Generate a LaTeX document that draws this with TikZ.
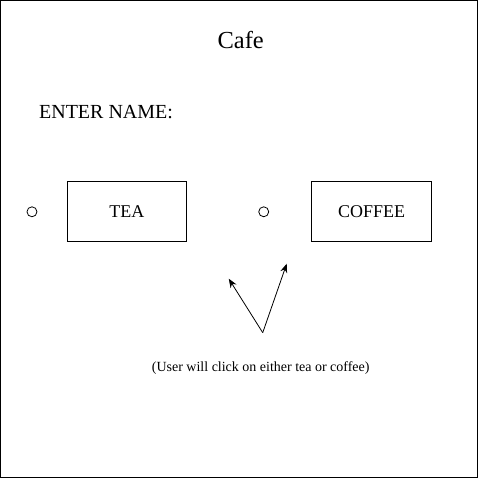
\documentclass[tikz,border=0pt]{standalone}
\usepackage{fontspec}
\setmainfont{Liberation Serif}
\usetikzlibrary{arrows.meta}
\begin{document}
\begin{tikzpicture}[x=1pt,y=-1pt,
  choice/.style={draw,line width=0.8pt,minimum width=120pt,minimum height=60pt,inner sep=0pt,font=\fontsize{18}{20}\selectfont},
  radio/.style={draw,circle,line width=0.8pt,minimum size=10pt,inner sep=0pt},
  lbl/.style={inner sep=0pt},
  pointer/.style={-{Stealth[length=9pt,width=7pt]},line width=0.8pt}]
\node[draw,line width=1pt,minimum width=477pt,minimum height=477pt,inner sep=0pt,anchor=north west] (frame) at (0.5,0.5) {};
\useasboundingbox (0,0) rectangle (478,478);
\node[lbl,font=\fontsize{24.5}{28}\selectfont] (title) at (241,40) {Cafe};
\node[lbl,font=\fontsize{20}{24}\selectfont,anchor=west] (name) at (39,112) {ENTER NAME:};
\node[radio] (r1) at (32,212) {};
\node[radio] (r2) at (264,212) {};
\node[choice] (tea) at (127,212) {\raisebox{-2pt}{TEA}};
\node[choice] (coffee) at (372,212) {COFFEE};
\coordinate (src) at (263,333);
\coordinate (t1) at (229,279);
\coordinate (t2) at (287,264);
\draw[pointer] (src) -- (t1);
\draw[pointer] (src) -- (t2);
\node[lbl,font=\fontsize{14}{16}\selectfont] (note) at (261,368) {(User will click on either tea or coffee)};
\end{tikzpicture}
\end{document}
